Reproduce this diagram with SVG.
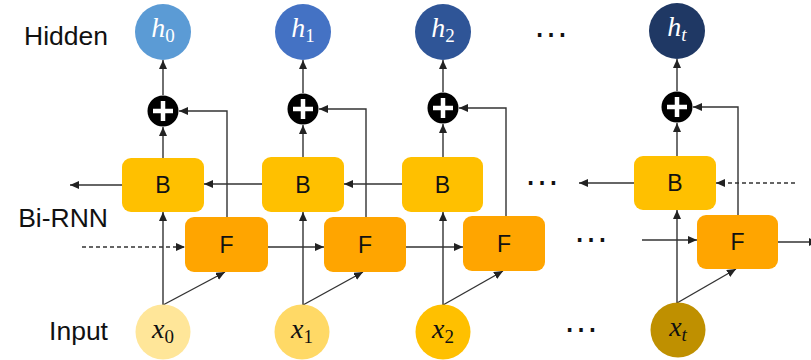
<svg xmlns="http://www.w3.org/2000/svg" width="811" height="360" viewBox="0 0 811 360">
<style>
.lbl{font-family:"Liberation Sans",Arial,sans-serif;font-size:26.5px;fill:#111;text-anchor:end}
.box{font-family:"Liberation Sans",Arial,sans-serif;font-size:23px;fill:#111;text-anchor:middle}
.math{font-family:"Liberation Serif","Times New Roman",serif;font-size:28px;text-anchor:middle}
.math .v{font-style:italic}
.math .s{font-size:19px}
.dots{font-family:"Liberation Sans",Arial,sans-serif;font-size:36px;fill:#111;text-anchor:middle}
.ln{fill:none;stroke:#333;stroke-width:1.4}
.ar{marker-end:url(#ah)}
.dash{stroke-dasharray:4 3}
.bB{fill:#FFC000}
.bF{fill:#FFA500}
.plus{fill:#000}
.cross{stroke:#fff;stroke-width:4.5;fill:none}
</style>
<defs>
<marker id="ah" markerUnits="userSpaceOnUse" markerWidth="10" markerHeight="9" refX="9" refY="4" orient="auto">
<path d="M0,0 L9,4 L0,8 z" fill="#222"/>
</marker>
</defs>
<rect width="811" height="360" fill="#fff"/>

<g id="labels">
<text class="lbl" x="108" y="45">Hidden</text>
<text class="lbl" x="108" y="227">Bi-RNN</text>
<text class="lbl" x="108" y="340">Input</text>
</g>

<g id="connectors">
<!-- column 0 -->
<line class="ln ar" x1="163" y1="95" x2="163" y2="60"/>
<line class="ln ar" x1="163" y1="158" x2="163" y2="127"/>
<polyline class="ln ar" points="227,217 227,111 179,111"/>
<line class="ln ar" x1="163" y1="305" x2="163" y2="212"/>
<line class="ln ar" x1="163" y1="305" x2="225" y2="272"/>
<line class="ln ar" x1="122" y1="185" x2="70" y2="185"/>
<line class="ln ar dash" x1="82" y1="247" x2="185" y2="247"/>
<!-- column 1 -->
<line class="ln ar" x1="303" y1="93" x2="303" y2="60"/>
<line class="ln ar" x1="303" y1="157" x2="303" y2="125"/>
<polyline class="ln ar" points="366,217 366,109 319,109"/>
<line class="ln ar" x1="303" y1="305" x2="303" y2="212"/>
<line class="ln ar" x1="303" y1="305" x2="363" y2="272"/>
<line class="ln ar" x1="262" y1="184" x2="204" y2="184"/>
<line class="ln ar" x1="268" y1="247" x2="324" y2="247"/>
<!-- column 2 -->
<line class="ln ar" x1="443" y1="92" x2="443" y2="60"/>
<line class="ln ar" x1="443" y1="157" x2="443" y2="124"/>
<polyline class="ln ar" points="506,216 506,108 459,108"/>
<line class="ln ar" x1="443" y1="305" x2="443" y2="212"/>
<line class="ln ar" x1="443" y1="305" x2="503" y2="271"/>
<line class="ln ar" x1="402" y1="184" x2="344" y2="184"/>
<line class="ln ar" x1="406" y1="247" x2="463" y2="247"/>
<!-- column t -->
<line class="ln ar" x1="677" y1="91" x2="677" y2="59"/>
<line class="ln ar" x1="677" y1="156" x2="677" y2="123"/>
<polyline class="ln ar" points="738,215 738,107 693,107"/>
<line class="ln ar" x1="677" y1="303" x2="677" y2="210"/>
<line class="ln ar" x1="677" y1="303" x2="736" y2="269"/>
<line class="ln ar" x1="634" y1="183" x2="579" y2="183"/>
<line class="ln ar dash" x1="795" y1="183" x2="716" y2="183"/>
<line class="ln ar" x1="642" y1="240" x2="697" y2="240"/>
<line class="ln ar" x1="778" y1="242" x2="818" y2="242"/>
</g>

<g id="dots">
<text class="dots" x="551" y="37">…</text>
<text class="dots" x="542" y="185">…</text>
<text class="dots" x="591" y="242">…</text>
<text class="dots" x="581" y="332">…</text>
</g>

<g id="h0"><circle cx="163" cy="32" r="28" fill="#5B9BD5"/><text class="math" x="163" y="37" fill="#fff"><tspan class="v">h</tspan><tspan class="s" dy="5">0</tspan></text></g>
<g id="h1"><circle cx="303" cy="32" r="28" fill="#4472C4"/><text class="math" x="303" y="37" fill="#fff"><tspan class="v">h</tspan><tspan class="s" dy="5">1</tspan></text></g>
<g id="h2"><circle cx="443" cy="32" r="28" fill="#2F5597"/><text class="math" x="443" y="37" fill="#fff"><tspan class="v">h</tspan><tspan class="s" dy="5">2</tspan></text></g>
<g id="ht"><circle cx="677" cy="31" r="28" fill="#1F3864"/><text class="math" x="677" y="36" fill="#fff"><tspan class="v">h</tspan><tspan class="s v" dy="5">t</tspan></text></g>

<g id="plus0"><circle class="plus" cx="163" cy="111" r="15.5"/><path class="cross" d="M153,111 H173 M163,101 V121"/></g>
<g id="plus1"><circle class="plus" cx="303" cy="109" r="15.5"/><path class="cross" d="M293,109 H313 M303,99 V119"/></g>
<g id="plus2"><circle class="plus" cx="443" cy="108" r="15.5"/><path class="cross" d="M433,108 H453 M443,98 V118"/></g>
<g id="plust"><circle class="plus" cx="677" cy="107" r="15.5"/><path class="cross" d="M667,107 H687 M677,97 V117"/></g>

<g id="B0"><rect class="bB" x="122" y="158" width="82" height="54" rx="9"/><text class="box" x="163" y="193">B</text></g>
<g id="B1"><rect class="bB" x="262" y="157" width="82" height="55" rx="9"/><text class="box" x="303" y="193">B</text></g>
<g id="B2"><rect class="bB" x="402" y="157" width="81" height="55" rx="9"/><text class="box" x="442.5" y="193">B</text></g>
<g id="Bt"><rect class="bB" x="634" y="156" width="82" height="54" rx="9"/><text class="box" x="675" y="191">B</text></g>

<g id="F0"><rect class="bF" x="185" y="217" width="83" height="55" rx="9"/><text class="box" x="226.5" y="253">F</text></g>
<g id="F1"><rect class="bF" x="324" y="217" width="82" height="55" rx="9"/><text class="box" x="365" y="253">F</text></g>
<g id="F2"><rect class="bF" x="463" y="216" width="82" height="55" rx="9"/><text class="box" x="504" y="252">F</text></g>
<g id="Ft"><rect class="bF" x="697" y="215" width="81" height="54" rx="9"/><text class="box" x="737.5" y="250">F</text></g>

<g id="x0"><circle cx="163" cy="332" r="27.5" fill="#FFE699"/><text class="math" x="163" y="338" fill="#111"><tspan class="v">x</tspan><tspan class="s" dy="5">0</tspan></text></g>
<g id="x1"><circle cx="302" cy="332" r="27.5" fill="#FFD966"/><text class="math" x="302" y="338" fill="#111"><tspan class="v">x</tspan><tspan class="s" dy="5">1</tspan></text></g>
<g id="x2"><circle cx="443" cy="332" r="27.5" fill="#FFC000"/><text class="math" x="443" y="338" fill="#111"><tspan class="v">x</tspan><tspan class="s" dy="5">2</tspan></text></g>
<g id="xt"><circle cx="678" cy="330" r="27.5" fill="#BF9000"/><text class="math" x="678" y="336" fill="#111"><tspan class="v">x</tspan><tspan class="s v" dy="5">t</tspan></text></g>
</svg>
